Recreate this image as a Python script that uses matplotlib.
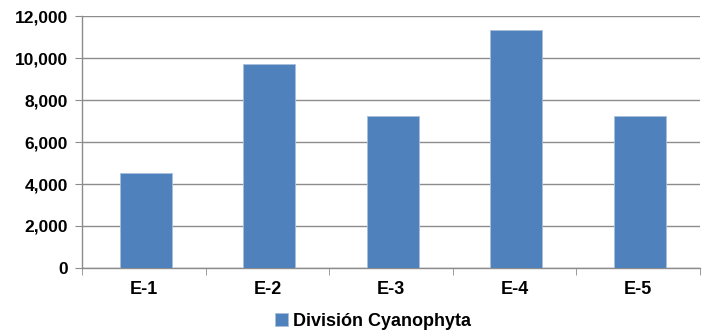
import numpy as np
import matplotlib
matplotlib.use('Agg')
import matplotlib.pyplot as plt
from matplotlib.ticker import FuncFormatter, FixedLocator

# Data
categories = ['E-1', 'E-2', 'E-3', 'E-4', 'E-5']
values = [4520, 9720, 7230, 11330, 7230]
series_name = 'División Cyanophyta'
y_ticks = [0, 2000, 4000, 6000, 8000, 10000, 12000]

bar_color = '#4f81bd'
grid_color = '#8c8c8c'

plt.rcParams['font.family'] = ['Liberation Sans', 'DejaVu Sans']
plt.rcParams['font.weight'] = 'bold'

fig = plt.figure(figsize=(7.08, 3.30), dpi=100)
ax = fig.add_axes([82/708, 1 - 268/330, (700 - 82)/708, (268 - 16)/330])

x = np.arange(len(categories))
ax.bar(x + 0.015, values, width=0.42, color=bar_color, edgecolor='#a9bfdc', linewidth=0.6,
       label=series_name, zorder=3)

ax.set_xlim(-0.5, len(categories) - 0.5)
ax.set_ylim(0, 12000)
ax.set_yticks(y_ticks)
ax.yaxis.set_major_formatter(FuncFormatter(lambda v, p: '{:,.0f}'.format(v)))
ax.set_xticks(x)
ax.set_xticklabels(categories)
ax.xaxis.set_minor_locator(FixedLocator(np.arange(-0.5, len(categories), 1.0)))

ax.grid(axis='y', color=grid_color, linewidth=1.0, zorder=0)
for side in ['top', 'right']:
    ax.spines[side].set_visible(False)
ax.spines['left'].set_color(grid_color)
ax.spines['bottom'].set_color(grid_color)
ax.spines['left'].set_linewidth(1.0)
ax.spines['bottom'].set_linewidth(1.0)

ax.tick_params(axis='y', length=5, color=grid_color, labelsize=12.5, pad=5)
ax.tick_params(axis='x', which='major', length=0, labelsize=13, pad=9)
ax.tick_params(axis='x', which='minor', length=5, color=grid_color)
for lbl in ax.get_xticklabels() + ax.get_yticklabels():
    lbl.set_fontweight('bold')

handles, labels = ax.get_legend_handles_labels()
fig.legend(handles, labels, loc='center', bbox_to_anchor=(373/708, 1 - 321/330),
           frameon=False, handlelength=0.7, handleheight=0.7,
           handletextpad=0.3, prop={'weight': 'bold', 'size': 13})

fig.savefig('out.png', dpi=100)
